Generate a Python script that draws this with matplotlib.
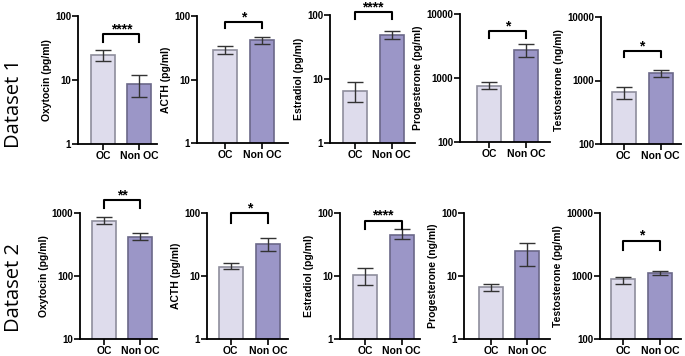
import matplotlib
matplotlib.use("Agg")
import matplotlib.pyplot as plt
import numpy as np

# Groups on every panel
categories = ["OC", "Non OC"]

# Dataset 1
labels1 = ["Oxytocin (pg/ml)", "ACTH (pg/ml)", "Estradiol (pg/ml)",
           "Progesterone (pg/ml)", "Testosterone (ng/ml)"]
means1 = [[24.5, 8.7], [29.5, 42], [6.6, 48], [750, 2750], [650, 1330]]
low1 = [[19.8, 5.5], [25.6, 36.5], [4.4, 42], [670, 2130], [505, 1150]]
high1 = [[29.4, 12], [34, 47], [8.9, 56], [870, 3400], [780, 1490]]
ylims1 = [(1, 100), (1, 100), (1, 100), (100, 10000), (100, 10000)]
stars1 = ["****", "*", "****", "*", "*"]

# Dataset 2
labels2 = ["Oxytocin (pg/ml)", "ACTH (pg/ml)", "Estradiol (pg/ml)",
           "Progesterone (ng/ml)", "Testosterone (pg/ml)"]
means2 = [[745, 415], [14.1, 32.5], [10.3, 45], [6.6, 24.5], [880, 1130]]
low2 = [[670, 370], [12.7, 24.5], [7.3, 38], [5.8, 14.6], [760, 1020]]
high2 = [[870, 480], [16.3, 40], [13.5, 55], [7.6, 34], [980, 1220]]
ylims2 = [(10, 1000), (1, 100), (1, 100), (1, 100), (100, 10000)]
stars2 = ["**", "*", "****", "", "*"]

# Layout (pixels): spine x, axis end x, top y, bottom y, bar centres
W, H = 685, 356
boxes1 = [(78, 157, 16, 144, 103.5, 139.5), (197, 288, 16, 143, 225, 262),
          (330, 415, 15, 143, 355, 391.5), (460, 550, 14, 142, 489.5, 526.5),
          (601, 681, 17, 144, 623.5, 660.5)]
boxes2 = [(80, 157, 213, 339, 104, 140), (207, 288, 213, 339, 230.5, 268),
          (340, 420, 213, 339, 365, 401.5), (464, 550, 213, 339, 491, 527),
          (600, 681, 213, 339, 623, 660)]
# bracket top / leg bottom in data units
brackets1 = [(52, 39), (80, 65), (110, 87), (5400, 4200), (2900, 2350)]
brackets2 = [(1590, 1200), (100, 69), (75, 56), None, (3630, 2600)]

oc_fill, oc_edge = "#dedcec", "#8e8d9c"
non_fill, non_edge = "#9b96c7", "#6b6889"

plt.rcParams["font.family"] = ["Liberation Sans", "DejaVu Sans"]
fig = plt.figure(figsize=(W / 100, H / 100), dpi=100)


def panel(box, means, low, high, ylim, label, star, bracket):
    x0, x1, yt, yb, c0, c1 = box
    ax = fig.add_axes([x0 / W, 1 - yb / H, (x1 - x0) / W, (yb - yt) / H])
    step = c1 - c0
    ax.set_xlim(-(c0 - x0) / step, 1 + (x1 - c1) / step)
    ax.set_yscale("log")
    ax.set_ylim(*ylim)
    xs = np.arange(len(categories))
    ax.bar(xs, means, width=24 / step, color=[oc_fill, non_fill],
           edgecolor=[oc_edge, non_edge], linewidth=1.2, zorder=2)
    yerr = [np.array(means) - np.array(low), np.array(high) - np.array(means)]
    ax.errorbar(xs, means, yerr=yerr, fmt="none", ecolor="#333333",
                elinewidth=1.0, capsize=6, capthick=1.0, zorder=3)
    decades = 10.0 ** np.arange(np.log10(ylim[0]), np.log10(ylim[1]) + 1)
    ax.yaxis.set_major_locator(matplotlib.ticker.FixedLocator(decades))
    ax.yaxis.set_minor_locator(matplotlib.ticker.NullLocator())
    ax.set_yticklabels([str(int(d)) for d in decades])
    ax.set_xticks(xs)
    ax.set_xticklabels(categories)
    for t in ax.get_xticklabels() + ax.get_yticklabels():
        t.set_fontweight("bold")
    ax.tick_params(axis="y", labelsize=7, length=4, width=1.2, pad=1)
    ax.tick_params(axis="x", labelsize=7.5, length=4, width=1.2, pad=1)
    for s in ["top", "right"]:
        ax.spines[s].set_visible(False)
    for s in ["left", "bottom"]:
        ax.spines[s].set_linewidth(1.3)
    ax.set_ylabel(label, fontsize=7.5, fontweight="bold", labelpad=2)
    if bracket is not None:
        top, leg = bracket
        ax.plot([0, 0, 1, 1], [leg, top, top, leg], color="black",
                lw=1.5, clip_on=False, zorder=4)
        ax.annotate(star, (0.5, top), xytext=(0, -1.5), textcoords="offset points",
                    ha="center", va="bottom", fontsize=10, fontweight="bold",
                    annotation_clip=False)
    return ax


for i in range(5):
    panel(boxes1[i], means1[i], low1[i], high1[i], ylims1[i], labels1[i],
          stars1[i], brackets1[i])
    panel(boxes2[i], means2[i], low2[i], high2[i], ylims2[i], labels2[i],
          stars2[i], brackets2[i])

fig.text(14 / W, 1 - 103 / H, "Dataset 1", rotation=90, ha="center",
         va="center", fontsize=14.5, family="Open Sans")
fig.text(14 / W, 1 - 288 / H, "Dataset 2", rotation=90, ha="center",
         va="center", fontsize=14.5, family="Open Sans")

fig.savefig("out.png", dpi=100)
